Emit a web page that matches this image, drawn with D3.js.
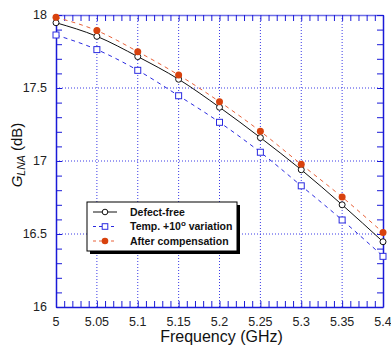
<!DOCTYPE html>
<html>
<head>
<meta charset="utf-8">
<script src="https://cdn.jsdelivr.net/npm/d3@7"></script>
<style>
  body { margin: 0; background: #fff; }
  text { font-family: "Liberation Sans", Arial, sans-serif; }
</style>
</head>
<body>
<div id="viz"></div>
<script>
'use strict';

// frequency points (GHz)
const freq = [5.0, 5.05, 5.1, 5.15, 5.2, 5.25, 5.3, 5.35, 5.4];

// G_LNA values (dB)
const defectFree = [17.947, 17.854, 17.715, 17.56, 17.368, 17.16, 16.94, 16.70, 16.447];
const tempVar = [17.863, 17.763, 17.621, 17.447, 17.265, 17.06, 16.83, 16.596, 16.347];
const afterComp = [17.984, 17.893, 17.749, 17.589, 17.406, 17.203, 16.977, 16.753, 16.51];

const xTicks = [5, 5.05, 5.1, 5.15, 5.2, 5.25, 5.3, 5.35, 5.4];
const yTicks = [16, 16.5, 17, 17.5, 18];
const legendLabels = ['Defect-free', 'Temp. +10', 'After compensation'];

const W = 391, H = 348;
const margin = {top: 15, right: 8, bottom: 41, left: 56};
const width = W - margin.left - margin.right;
const height = H - margin.top - margin.bottom;

const svg = d3.select('#viz')
  .append('svg')
    .attr('width', W)
    .attr('height', H);

const g = svg.append('g')
  .attr('transform', `translate(${margin.left},${margin.top})`);

const x = d3.scaleLinear().domain([5, 5.4]).range([0, width]);
const y = d3.scaleLinear().domain([16, 18]).range([height, 0]);

const axisBlue = '#1a1ad8';

// grid lines
g.append('g')
  .selectAll('line')
  .data(xTicks.slice(1, -1))
  .join('line')
    .attr('x1', d => x(d)).attr('x2', d => x(d))
    .attr('y1', 0).attr('y2', height)
    .attr('stroke', '#3a3ae6')
    .attr('stroke-width', 1)
    .attr('stroke-dasharray', '1,2');

g.append('g')
  .selectAll('line')
  .data(yTicks.slice(1, -1))
  .join('line')
    .attr('x1', 0).attr('x2', width)
    .attr('y1', d => y(d)).attr('y2', d => y(d))
    .attr('stroke', '#3a3ae6')
    .attr('stroke-width', 1)
    .attr('stroke-dasharray', '1,2');

// minor ticks
const xMinor = d3.range(0, 41).map(i => 5 + i * 0.01);
const yMinor = d3.range(0, 21).map(i => 16 + i * 0.1);

// axes with inward ticks
function styleAxis(sel) {
  sel.selectAll('path').attr('stroke', axisBlue).attr('stroke-width', 1.5);
  sel.selectAll('line').attr('stroke', axisBlue);
}

const axBottom = g.append('g')
  .attr('transform', `translate(0,${height})`)
  .call(d3.axisBottom(x).tickValues(xMinor).tickSize(-6).tickSizeOuter(0).tickFormat(''));
styleAxis(axBottom);

const axTop = g.append('g')
  .call(d3.axisTop(x).tickValues(xMinor).tickSize(-6).tickSizeOuter(0).tickFormat(''));
styleAxis(axTop);
axTop.select('path').attr('stroke', '#6f6fe8');

const axLeft = g.append('g')
  .call(d3.axisLeft(y).tickValues(yMinor).tickSize(-6).tickSizeOuter(0).tickFormat(''));
styleAxis(axLeft);

const axRight = g.append('g')
  .attr('transform', `translate(${width},0)`)
  .call(d3.axisRight(y).tickValues(yMinor).tickSize(-6).tickSizeOuter(0).tickFormat(''));
styleAxis(axRight);

// tick labels
g.append('g')
  .selectAll('text')
  .data(xTicks)
  .join('text')
    .attr('x', d => x(d))
    .attr('y', height + 18.5)
    .attr('text-anchor', 'middle')
    .attr('font-size', 12.5)
    .attr('fill', '#222')
    .text(d => d3.format('')(d));

g.append('g')
  .selectAll('text')
  .data(yTicks)
  .join('text')
    .attr('x', -9)
    .attr('y', d => y(d))
    .attr('dy', '0.35em')
    .attr('text-anchor', 'end')
    .attr('font-size', 12.5)
    .attr('fill', '#222')
    .text(d => d3.format('')(d));

// axis titles
svg.append('text')
  .attr('x', margin.left + width / 2 + 2)
  .attr('y', H - 6)
  .attr('text-anchor', 'middle')
  .attr('font-size', 16)
  .attr('fill', '#111')
  .text('Frequency (GHz)');

const yTitle = svg.append('text')
  .attr('transform', 'translate(22,155) rotate(-90)')
  .attr('text-anchor', 'middle')
  .attr('font-size', 15)
  .attr('fill', '#111');
yTitle.append('tspan').attr('font-style', 'italic').text('G');
yTitle.append('tspan').attr('font-style', 'italic').attr('font-size', 10.5).attr('dy', 3).text('LNA');
yTitle.append('tspan').attr('dy', -3).text(' (dB)');

// series
const series = [
  {values: defectFree, color: '#111', dash: null, marker: 'circle', fill: 'none', mcolor: '#111'},
  {values: tempVar, color: '#2a2ae0', dash: '4,4', marker: 'square', fill: 'none', mcolor: '#2a2ae0'},
  {values: afterComp, color: '#e8623a', dash: '4,4', marker: 'circle', fill: '#d8420e', mcolor: '#d8420e'}
];

const line = d3.line()
  .curve(d3.curveMonotoneX)
  .x(d => x(d[0]))
  .y(d => y(d[1]));

function drawMarker(sel, s, r) {
  if (s.marker === 'square') {
    sel.append('rect')
      .attr('x', -r).attr('y', -r)
      .attr('width', 2 * r).attr('height', 2 * r)
      .attr('fill', '#fff')
      .attr('stroke', s.mcolor)
      .attr('stroke-width', 1);
  } else if (s.fill === 'none') {
    sel.append('circle')
      .attr('r', r)
      .attr('fill', '#fff')
      .attr('stroke', s.mcolor)
      .attr('stroke-width', 1);
  } else {
    sel.append('circle')
      .attr('r', r + 0.5)
      .attr('fill', s.fill);
  }
}

series.forEach(s => {
  const pts = freq.map((f, i) => [f, s.values[i]]);
  g.append('path')
    .datum(pts)
    .attr('fill', 'none')
    .attr('stroke', s.color)
    .attr('stroke-width', 1)
    .attr('stroke-dasharray', s.dash)
    .attr('d', line);
});

// draw markers: temp first, then defect-free, then compensation on top
[series[1], series[0], series[2]].forEach(s => {
  freq.forEach((f, i) => {
    const m = g.append('g')
      .attr('transform', `translate(${x(f)},${y(s.values[i])})`);
    drawMarker(m, s, 3);
  });
});

// legend
const lg = svg.append('g').attr('transform', 'translate(87,202)');
const lw = 150, lh = 49;
lg.append('rect')
  .attr('x', 3).attr('y', 3)
  .attr('width', lw).attr('height', lh)
  .attr('fill', '#000');
lg.append('rect')
  .attr('width', lw).attr('height', lh)
  .attr('fill', '#fff')
  .attr('stroke', '#000')
  .attr('stroke-width', 1);

series.forEach((s, i) => {
  const row = lg.append('g').attr('transform', `translate(0,${10 + i * 14.5})`);
  row.append('line')
    .attr('x1', 6).attr('x2', 30)
    .attr('y1', 0).attr('y2', 0)
    .attr('stroke', s.color)
    .attr('stroke-width', 1)
    .attr('stroke-dasharray', s.dash ? '3,3' : null);
  const m = row.append('g').attr('transform', 'translate(18,0)');
  drawMarker(m, s, 2.8);
  const t = row.append('text')
    .attr('x', 43)
    .attr('dy', '0.35em')
    .attr('font-size', 10.5)
    .attr('font-weight', 'bold')
    .attr('fill', '#111')
    .text(legendLabels[i]);
  if (i === 1) {
    t.append('tspan').attr('dy', -4).attr('font-size', 8).text('o');
    t.append('tspan').attr('dy', 4).text(' variation');
  }
});
</script>
</body>
</html>
